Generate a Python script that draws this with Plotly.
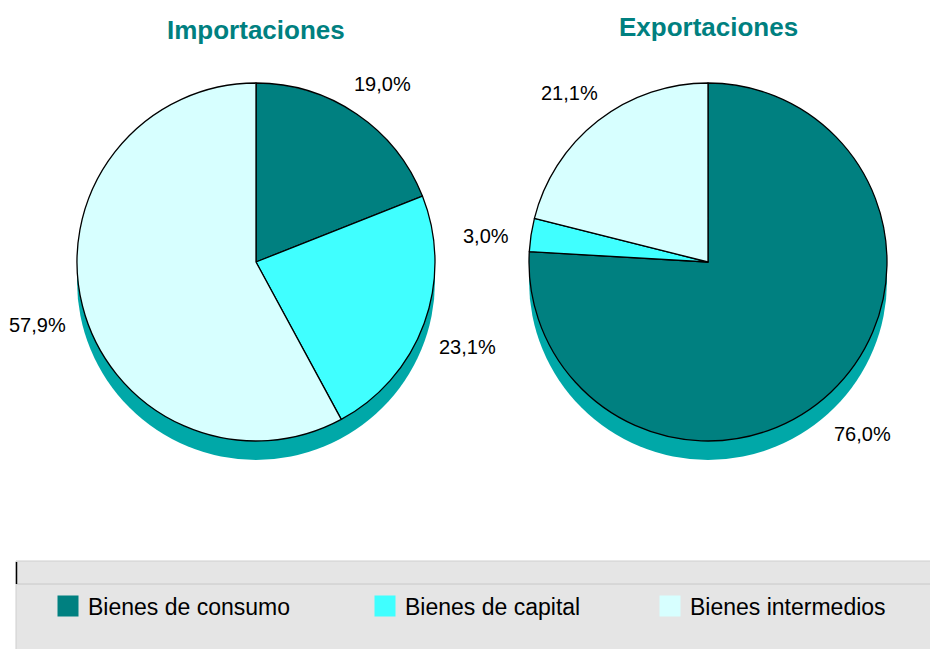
import math
import plotly.graph_objects as go

# ---- data ----
categories = ["Bienes de consumo", "Bienes de capital", "Bienes intermedios"]
importaciones = [19.0, 23.1, 57.9]
exportaciones = [76.0, 3.0, 21.1]
titles = ["Importaciones", "Exportaciones"]
colors = ["#008080", "#40FFFF", "#D7FFFF"]

# ---- layout geometry (screen pixels; page body has an 8px margin) ----
OFF = 8
SW, SH = 938, 649
W, H = SW - OFF, SH - OFF
R = 179
CY = 262
CX = [256, 708]
DEPTH = 19
SHADOW = "#00A8A8"
FONT = "Liberation Sans, Arial, sans-serif"
LEGEND_X = [48, 365, 650]   # left edge of each legend entry (screen px)
LEGEND_Y = 606


def px(x):
    return (x - OFF) / W


def py(y):
    return 1 - (y - OFF) / H


fig = go.Figure()
shapes = []
annotations = []

for i, (vals, title) in enumerate(zip([importaciones, exportaciones], titles)):
    cx = CX[i]
    fig.add_trace(go.Pie(
        labels=categories, values=vals, sort=False, direction="clockwise",
        rotation=0,
        domain=dict(x=[px(cx - R), px(cx + R)], y=[py(CY + R), py(CY - R)]),
        textinfo="none",
        marker=dict(colors=colors, line=dict(color="black", width=1.3)),
        showlegend=False, hoverinfo="label+percent", name=title,
    ))
    # 3D depth shadow
    shapes.append(dict(type="circle", xref="paper", yref="paper", layer="below",
                       x0=px(cx - R), x1=px(cx + R),
                       y0=py(CY + R + DEPTH), y1=py(CY - R + DEPTH),
                       fillcolor=SHADOW, line=dict(width=0)))
    # title
    annotations.append(dict(text="<b>%s</b>" % title, x=px(cx), y=py(30 - 3 * i),
                            xref="paper", yref="paper", showarrow=False,
                            xanchor="center", yanchor="middle",
                            font=dict(family=FONT, size=26, color="#008080")))
    # percentage labels, placed outside along each slice's mid-angle
    total = sum(vals)
    cum = 0.0
    for v in vals:
        mid = (cum + v / 2) / total * 2 * math.pi
        cum += v
        d = R + 46
        lx = cx + d * math.sin(mid)
        ly = CY - d * math.cos(mid) + 8
        annotations.append(dict(text=("%.1f" % v).replace(".", ",") + "%",
                                x=px(lx), y=py(ly), xref="paper", yref="paper",
                                showarrow=False, xanchor="center", yanchor="middle",
                                font=dict(family=FONT, size=20, color="black")))

# legend background box
LEG_TOP, LEG_LINE = 561, 584
shapes.append(dict(type="rect", xref="paper", yref="paper", layer="below",
                   x0=px(16), x1=1.01, y0=-0.01, y1=py(LEG_TOP),
                   fillcolor="#E5E5E5", line=dict(color="#CFCFCF", width=1)))
shapes.append(dict(type="line", xref="paper", yref="paper", layer="below",
                   x0=px(16), x1=1, y0=py(LEG_LINE), y1=py(LEG_LINE),
                   line=dict(color="#C8C8C8", width=1)))
shapes.append(dict(type="line", xref="paper", yref="paper", layer="above",
                   x0=px(16.5), x1=px(16.5), y0=py(LEG_LINE), y1=py(LEG_TOP + 1),
                   line=dict(color="black", width=1.5)))

# legend entries (dummy traces for larger square symbols), one legend each
legend_cfg = {}
for k, (name, col) in enumerate(zip(categories, colors)):
    lname = "legend" if k == 0 else "legend%d" % (k + 1)
    fig.add_trace(go.Scatter(x=[None], y=[None], mode="markers", name=name,
                             legend=lname,
                             marker=dict(symbol="square", size=16, color=col,
                                         line=dict(width=6, color=col)),
                             showlegend=True, hoverinfo="skip"))
    legend_cfg[lname] = dict(orientation="h", x=px(LEGEND_X[k]), xanchor="left",
                             y=py(LEGEND_Y), yanchor="middle",
                             bgcolor="rgba(0,0,0,0)",
                             font=dict(family=FONT, size=23, color="black"))

fig.update_layout(
    width=W, height=H, margin=dict(l=0, r=0, t=0, b=0),
    paper_bgcolor="white", plot_bgcolor="rgba(0,0,0,0)",
    xaxis=dict(visible=False), yaxis=dict(visible=False),
    shapes=shapes, annotations=annotations,
    font=dict(family=FONT),
    **legend_cfg,
)

fig.write_html("out.html")
